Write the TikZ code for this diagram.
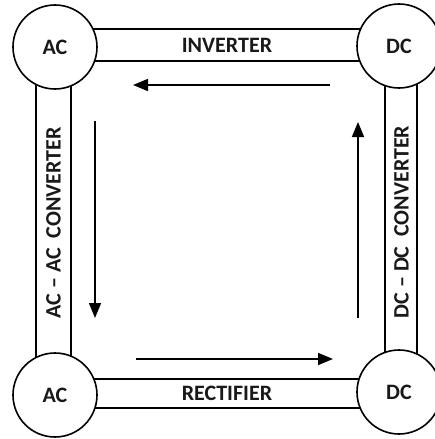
\documentclass[tikz,border=0pt]{standalone}
\usepackage{fontspec}
\setmainfont{Carlito}
\usetikzlibrary{arrows.meta}
\begin{document}
\begin{tikzpicture}[x=1pt,y=1pt,
  every node/.style={font=\fontsize{22}{26}\selectfont\bfseries, text=black!90},
  ring/.style={circle, draw, line width=1.6pt, fill=white, minimum size=84pt, inner sep=0pt},
  hbar/.style={rectangle, draw, line width=1.6pt, inner sep=0pt},
  flow/.style={line width=1.6pt, -{Triangle[length=15pt,width=12pt]}}]
\useasboundingbox (0,0) rectangle (434,-439);
% bars
\node[hbar, minimum width=344pt, minimum height=32pt] (inv) at (227,-45) {INVERTER};
\node[hbar, minimum width=344pt, minimum height=29pt] (rect) at (227,-393.5) {RECTIFIER};
\node[hbar, minimum width=35pt, minimum height=348pt] (acac) at (53.5,-221) {};
\node[rotate=90] (acacl) at (53.5,-223) {AC -- AC\ \ CONVERTER};
\node[hbar, minimum width=32pt, minimum height=346pt] (dcdc) at (401,-219) {};
\node[rotate=90] (dcdcl) at (401.5,-222) {DC -- DC\ \ CONVERTER};
% circles
\node[ring] (ac1) at (55,-47) {AC};
\node[ring] (dc1) at (399,-46) {DC};
\node[ring] (ac2) at (55,-395) {AC};
\node[ring] (dc2) at (399,-392) {DC};
% arrows
\coordinate (t1) at (330,-85);
\coordinate (t2) at (133,-85);
\coordinate (l1) at (95,-121);
\coordinate (l2) at (95,-318);
\coordinate (b1) at (136,-359);
\coordinate (b2) at (333,-359);
\coordinate (r1) at (358,-318);
\coordinate (r2) at (358,-122);
\draw[flow] (t1) -- (t2);
\draw[flow] (l1) -- (l2);
\draw[flow] (b1) -- (b2);
\draw[flow] (r1) -- (r2);
\end{tikzpicture}
\end{document}
